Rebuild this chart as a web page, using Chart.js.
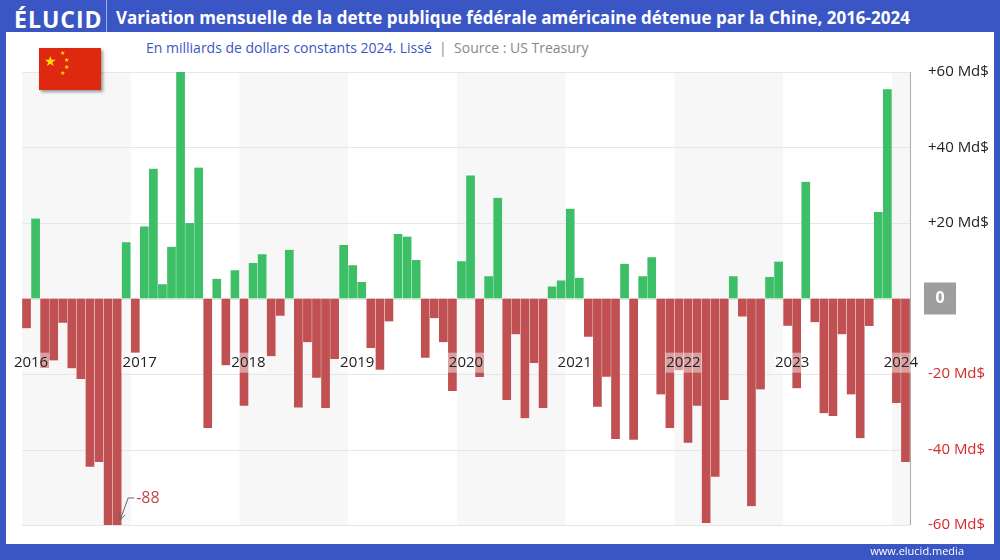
<!DOCTYPE html>
<html>
<head>
<meta charset="utf-8">
<script src="https://cdn.jsdelivr.net/npm/chart.js@4"></script>
<style>
  body { margin: 0; width: 1000px; height: 560px; background: #3a56c5; font-family: "Open Sans", "Noto Sans", sans-serif; position: relative; overflow: hidden; }
  #logo { position: absolute; left: 14px; top: 3px; color: #fff; font: bold 23px "Open Sans", sans-serif; letter-spacing: 1px; }
  #sep { position: absolute; left: 106px; top: 0; width: 1px; height: 32px; background: #9fb0e8; }
  #title { position: absolute; left: 116px; top: 6px; color: #fff; font: bold 17px "Open Sans", sans-serif; }
  #panel { position: absolute; left: 6px; top: 32px; width: 988px; height: 512px; background: #fff; }
  #sub { position: absolute; left: 140px; top: 6px; color: #3a56c5; font-size: 14px; }
  #sub span { color: #888; }
  #flag { position: absolute; left: 33px; top: 16px; width: 62px; height: 42px; background: #de2910; box-shadow: 2px 2px 3px rgba(0,0,0,0.4); color: #ffde00; z-index: 2; }
  #foot { position: absolute; right: 36px; bottom: 2px; color: #fff; font-size: 11px; }
  canvas { position: absolute; left: 0; top: 0; }
</style>
</head>
<body>
<div id="logo">ÉLUCID</div>
<div id="sep"></div>
<div id="title">Variation mensuelle de la dette publique fédérale américaine détenue par la Chine, 2016-2024</div>
<div id="panel">
  <div id="sub">En milliards de dollars constants 2024. Lissé <span>&nbsp;|&nbsp; Source : US Treasury</span></div>
  <div id="flag"><span style="position:absolute;left:5px;top:3px;font-size:14px">★</span><span style="position:absolute;left:21px;top:1px;font-size:6px">★</span><span style="position:absolute;left:25px;top:8px;font-size:6px">★</span><span style="position:absolute;left:25px;top:15px;font-size:6px">★</span><span style="position:absolute;left:21px;top:21px;font-size:6px">★</span></div>
  <canvas id="c" width="988" height="512"></canvas>
</div>
<div id="foot">www.elucid.media</div>
<script>
const years = ['2016', '2017', '2018', '2019', '2020', '2021', '2022', '2023', '2024'];
const values = [
  -7.9, 21.2, -18.4, -16.4, -6.4, -18.5, -21.3, -44.6, -43.3, -65, -88, 14.9,
  -14.4, 19.1, 34.4, 3.8, 13.7, 60, 20, 34.7, -34.3, 5.2, -17.7, 7.5,
  -28.4, 9.4, 11.7, -15.3, -4.6, 12.9, -28.9, -11.6, -21, -29, -16, 14.2,
  8.8, 4.4, -13.1, -18.9, -6.1, 17.1, 16.4, 10.2, -15.7, -5.2, -11.6, -24.5,
  9.9, 32.6, -20.8, 5.9, 26.7, -26.9, -9.5, -31.7, -17.1, -29, 3.2, 4.8,
  23.8, 5.5, -10.1, -28.7, -20.7, -37.2, 9.2, -37.4, 5.9, 10.9, -25.4, -34.3,
  -19, -38.2, -28.4, -59.5, -47.2, -26.9, 5.9, -4.8, -55, -24.1, 5.7, 9.8,
  -7.2, -23.8, 30.9, -6.3, -30.4, -31.1, -9.5, -25.4, -37, -7.3, 22.9, 55.4,
  -27.7, -43.3
];
const yTicks = [-60, -40, -20, 0, 20, 40, 60];
const labels = values.map((v, i) => years[Math.floor(i / 12)] + '-' + String(i % 12 + 1).padStart(2, '0'));
const minLabel = { index: 10, text: '-88' };

const decor = {
  id: 'decor',
  beforeDatasetsDraw(chart) {
    const { ctx, chartArea: a, scales: { x, y } } = chart;
    ctx.save();
    years.forEach((yr, k) => {
      if (k % 2 === 0) {
        const l = x.getPixelForValue(k * 12) - 4.5;
        const r = Math.min(x.getPixelForValue(Math.min(k * 12 + 11, values.length - 1)) + 4.5, a.right);
        ctx.fillStyle = '#f7f7f7';
        ctx.fillRect(l, a.top, r - l, a.bottom - a.top);
      }
    });
    ctx.strokeStyle = '#e6e6e6';
    ctx.lineWidth = 1;
    yTicks.forEach(t => {
      const py = Math.round(y.getPixelForValue(t)) + 0.5;
      ctx.beginPath(); ctx.moveTo(a.left, py); ctx.lineTo(a.right, py); ctx.stroke();
    });
    ctx.strokeStyle = '#aaa';
    ctx.beginPath(); ctx.moveTo(a.right + 0.5, a.top); ctx.lineTo(a.right + 0.5, a.bottom); ctx.stroke();
    ctx.restore();
  },
  afterDatasetsDraw(chart) {
    const { ctx, chartArea: a, scales: { x, y } } = chart;
    ctx.save();
    ctx.font = '15px "Open Sans", sans-serif';
    ctx.textBaseline = 'middle';
    years.forEach((yr, k) => {
      const w = ctx.measureText(yr).width;
      let px = x.getPixelForValue(k * 12) - 4.5 + 9;
      px = Math.max(px, w / 2 + 4);
      const py = y.getPixelForValue(-17);
      ctx.fillStyle = 'rgba(255,255,255,0.45)';
      ctx.fillRect(px - w / 2 - 1, py - 10, w + 2, 20);
      ctx.fillStyle = '#222';
      ctx.textAlign = 'center';
      ctx.fillText(yr, px, py);
    });
    // min annotation
    const mx = x.getPixelForValue(minLabel.index) + 3;
    ctx.strokeStyle = '#666';
    ctx.beginPath();
    ctx.moveTo(mx + 14, a.bottom - 27); ctx.lineTo(mx + 8, a.bottom - 27); ctx.lineTo(mx, a.bottom - 5);
    ctx.moveTo(mx - 1, a.bottom - 12); ctx.lineTo(mx, a.bottom - 5); ctx.lineTo(mx + 5, a.bottom - 10);
    ctx.stroke();
    ctx.fillStyle = '#c0474a';
    ctx.font = '16px "Open Sans", sans-serif';
    ctx.textAlign = 'left';
    ctx.fillText(minLabel.text, mx + 16, a.bottom - 27);
    // zero box
    const zy = y.getPixelForValue(0);
    ctx.fillStyle = '#9e9e9e';
    ctx.fillRect(a.right + 14, zy - 16, 32, 32);
    ctx.fillStyle = '#fff';
    ctx.font = 'bold 16px "Open Sans", sans-serif';
    ctx.textAlign = 'center';
    ctx.fillText('0', a.right + 30, zy);
    ctx.restore();
  }
};

new Chart(document.getElementById('c'), {
  type: 'bar',
  data: {
    labels: labels,
    datasets: [{
      data: values,
      backgroundColor: values.map(v => v >= 0 ? '#3dbf68' : '#c05052'),
      borderColor: values.map(v => v >= 0 ? 'rgba(255,255,255,0.15)' : 'rgba(255,255,255,0.2)'),
      borderWidth: { left: 0.5, right: 0.5, top: 0, bottom: 0 },
      barPercentage: 1,
      categoryPercentage: 1
    }]
  },
  options: {
    responsive: false,
    animation: false,
    layout: { padding: { left: 16, top: 40, bottom: 16, right: 0 } },
    plugins: { legend: { display: false }, tooltip: { enabled: false } },
    scales: {
      x: { display: false, offset: true },
      y: {
        position: 'right',
        min: -60, max: 60,
        afterFit(s) { s.width = 84; },
        afterBuildTicks(s) { s.ticks = yTicks.map(v => ({ value: v })); },
        grid: { display: false },
        border: { display: false },
        ticks: {
          padding: 10,
          font: { size: 15, family: '"Open Sans", sans-serif' },
          color: ctx => ctx.tick.value < 0 ? '#d42a2a' : '#222',
          callback: v => v === 0 ? '' : (v > 0 ? '+' : '') + v + ' Md$'
        }
      }
    }
  },
  plugins: [decor]
});
</script>
</body>
</html>
